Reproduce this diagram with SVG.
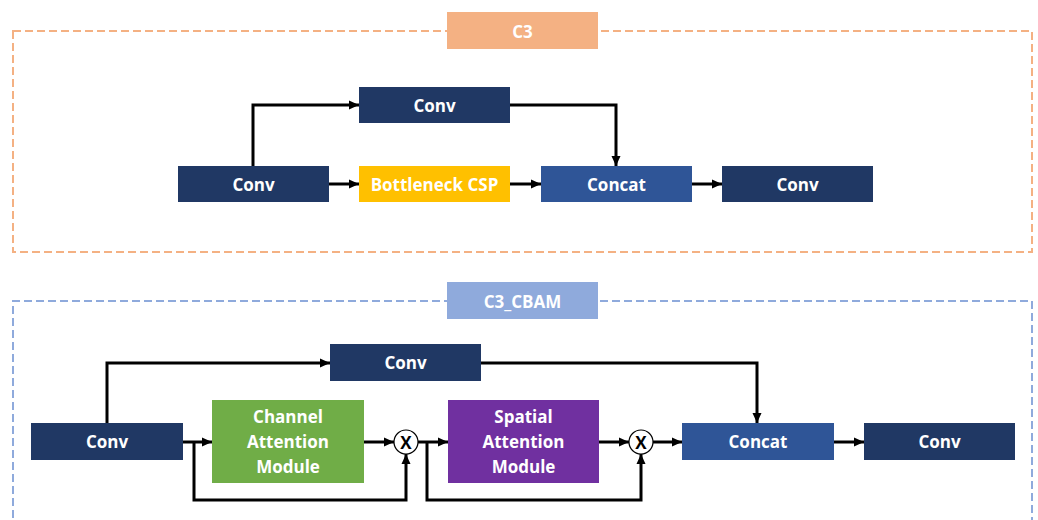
<svg xmlns="http://www.w3.org/2000/svg" width="1038" height="520" viewBox="0 0 1038 520">
<style>
.t{font-family:"Open Sans","Liberation Sans",sans-serif;font-weight:bold;font-size:17px;fill:#fff;text-anchor:middle;dominant-baseline:central}
.frame{fill:none;stroke-width:2;stroke-dasharray:8 4}
.navy{fill:#203864}
.blue{fill:#2F5597}
.c{fill:none;stroke:#000;stroke-width:3}
.x{font-family:"Open Sans","Liberation Sans",sans-serif;font-weight:bold;font-size:17px;fill:#000;text-anchor:middle;dominant-baseline:central}
</style>
<defs>
<marker id="a" markerUnits="userSpaceOnUse" markerWidth="11" markerHeight="10" refX="10" refY="5" orient="auto">
<path d="M0,0.5 L10,5 L0,9.5 z" fill="#000"/>
</marker>
</defs>
<rect width="1038" height="520" fill="#fff"/>

<g id="frame-c3">
<rect class="frame" x="13" y="31" width="1019" height="221" stroke="#F4B183"/>
<rect x="447" y="12" width="151" height="37" fill="#F4B183"/>
<text class="t" x="522.5" y="31">C3</text>
</g>
<g id="frame-c3cbam">
<path class="frame" d="M13,530 L13,301 L1032,301 L1032,530" stroke="#8FAADC"/>
<rect x="447" y="282" width="151" height="37" fill="#8FAADC"/>
<text class="t" x="522.5" y="301">C3_CBAM</text>
</g>

<g id="connectors">
<path class="c" d="M253,166 L253,105 L359,105" marker-end="url(#a)"/>
<path class="c" d="M510,105 L616,105 L616,166" marker-end="url(#a)"/>
<path class="c" d="M329,184 L359,184" marker-end="url(#a)"/>
<path class="c" d="M510,184 L541,184" marker-end="url(#a)"/>
<path class="c" d="M692,184 L722,184" marker-end="url(#a)"/>

<path class="c" d="M107,423 L107,363 L330,363" marker-end="url(#a)"/>
<path class="c" d="M481,363 L757,363 L757,423" marker-end="url(#a)"/>
<path class="c" d="M183,442 L212,442" marker-end="url(#a)"/>
<path class="c" d="M194,442 L194,500 L406,500 L406,454" marker-end="url(#a)"/>
<path class="c" d="M364,442 L394,442" marker-end="url(#a)"/>
<path class="c" d="M418,442 L448,442" marker-end="url(#a)"/>
<path class="c" d="M427,442 L427,500 L641,500 L641,454" marker-end="url(#a)"/>
<path class="c" d="M599,442 L629,442" marker-end="url(#a)"/>
<path class="c" d="M653,442 L682,442" marker-end="url(#a)"/>
<path class="c" d="M834,442 L864,442" marker-end="url(#a)"/>
</g>

<g id="c3-conv-top"><rect class="navy" x="359" y="87" width="151" height="36"/><text class="t" x="434.5" y="105">Conv</text></g>
<g id="c3-conv-in"><rect class="navy" x="178" y="166" width="151" height="36"/><text class="t" x="253.5" y="184">Conv</text></g>
<g id="c3-bottleneck"><rect x="359" y="166" width="151" height="36" fill="#FFC000"/><text class="t" x="434.5" y="184">Bottleneck CSP</text></g>
<g id="c3-concat"><rect class="blue" x="541" y="166" width="151" height="36"/><text class="t" x="616.5" y="184">Concat</text></g>
<g id="c3-conv-out"><rect class="navy" x="722" y="166" width="151" height="36"/><text class="t" x="797.5" y="184">Conv</text></g>

<g id="cb-conv-top"><rect class="navy" x="330" y="344" width="151" height="37"/><text class="t" x="405.5" y="362.5">Conv</text></g>
<g id="cb-conv-in"><rect class="navy" x="31" y="423" width="152" height="37"/><text class="t" x="107" y="441.5">Conv</text></g>
<g id="cb-cam"><rect x="212" y="400" width="152" height="83" fill="#70AD47"/>
<text class="t" x="288" y="416.5">Channel</text><text class="t" x="288" y="441.5">Attention</text><text class="t" x="288" y="466.5">Module</text></g>
<g id="cb-mul1"><circle cx="406" cy="442" r="12" fill="#fff" stroke="#000" stroke-width="1.2"/><text class="x" x="406" y="442">X</text></g>
<g id="cb-sam"><rect x="448" y="400" width="151" height="83" fill="#7030A0"/>
<text class="t" x="523.5" y="416.5">Spatial</text><text class="t" x="523.5" y="441.5">Attention</text><text class="t" x="523.5" y="466.5">Module</text></g>
<g id="cb-mul2"><circle cx="641" cy="442" r="12" fill="#fff" stroke="#000" stroke-width="1.2"/><text class="x" x="641" y="442">X</text></g>
<g id="cb-concat"><rect class="blue" x="682" y="423" width="152" height="37"/><text class="t" x="758" y="441.5">Concat</text></g>
<g id="cb-conv-out"><rect class="navy" x="864" y="423" width="151" height="37"/><text class="t" x="939.5" y="441.5">Conv</text></g>
</svg>
